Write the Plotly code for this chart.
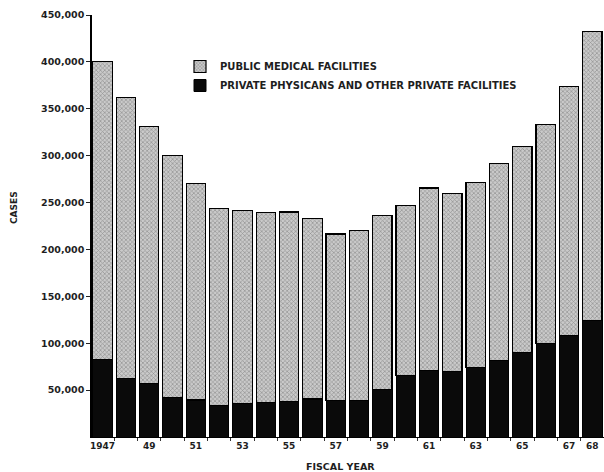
import plotly.graph_objects as go

years = list(range(1947, 1969))
private = [83000, 62000, 57000, 42000, 39500, 33500, 36000, 36500, 37500, 40500, 39000,
           39000, 51000, 66000, 71000, 69500, 74000, 81500, 90000, 99500, 108000, 124000]
public = [317000, 300000, 274000, 258500, 231000, 210500, 205500, 202500, 202500, 192500, 177500,
          181500, 185500, 180500, 194500, 190500, 197000, 210000, 219500, 233500, 266000, 308000]
xtick_vals = [1947, 1949, 1951, 1953, 1955, 1957, 1959, 1961, 1963, 1965, 1967, 1968]
xtick_text = ["1947", "49", "51", "53", "55", "57", "59", "61", "63", "65", "67", "68"]
ytick_vals = [50000, 100000, 150000, 200000, 250000, 300000, 350000, 400000, 450000]
ytick_text = ["50,000", "100,000", "150,000", "200,000", "250,000", "300,000", "350,000", "400,000", "450,000"]
gap_vals = [y + 0.5 for y in years[:-1]]

FONT = "DejaVu Sans"
TXT = "#1e1e1e"

W, H = 604, 472
L, T, R, B = 92, 15, 0, 35
PW, PH = W - L - R, H - T - B

fig = go.Figure()
fig.add_trace(go.Bar(
    x=years, y=private, name="PRIVATE PHYSICANS AND OTHER PRIVATE FACILITIES",
    marker=dict(color="#0a0a0a", line=dict(color="#000", width=1)),
))
fig.add_trace(go.Bar(
    x=years, y=public, name="PUBLIC MEDICAL FACILITIES",
    marker=dict(color="#bcbcbc", line=dict(color="#000", width=1.2),
                pattern=dict(shape="x", fgcolor="#5a5a5a", bgcolor="#cacaca", size=3, solidity=0.4)),
))

fig.update_layout(
    width=W, height=H,
    margin=dict(l=L, r=R, t=T, b=B, autoexpand=False),
    barmode="stack", bargap=0.17,
    paper_bgcolor="white", plot_bgcolor="white",
    showlegend=True,
    legend=dict(
        x=(180 - L) / PW, y=(T + PH - 52) / PH, xanchor="left", yanchor="top",
        traceorder="reversed", bgcolor="rgba(0,0,0,0)",
        font=dict(family=FONT, size=10, color=TXT, weight="bold"),
        itemwidth=30, tracegroupgap=0,
    ),
    font=dict(family=FONT, color=TXT),
    xaxis=dict(
        range=[1946.55, 1968.5], tickvals=xtick_vals, ticktext=xtick_text,
        ticks="", showgrid=False, zeroline=False,
        showline=True, linecolor="#000", linewidth=1,
        tickfont=dict(family=FONT, size=9, color=TXT, weight="bold"),
        minor=dict(tickvals=gap_vals, ticks="outside", ticklen=3, tickcolor="#333", tickwidth=1),
    ),
    yaxis=dict(
        range=[0, 450000], tickvals=ytick_vals, ticktext=ytick_text,
        ticks="outside", ticklen=4, tickcolor="#222", tickwidth=1,
        showgrid=False, zeroline=False,
        showline=True, linecolor="#000", linewidth=1.5,
        tickfont=dict(family=FONT, size=9.5, color=TXT, weight="bold"),
    ),
    annotations=[
        dict(text="CASES", x=(14 - L) / PW, y=(T + PH - 208) / PH, xref="paper", yref="paper",
             showarrow=False, textangle=-90, xanchor="center", yanchor="middle",
             font=dict(family=FONT, size=9, color=TXT, weight="bold")),
        dict(text="FISCAL YEAR", x=(340 - L) / PW, y=(T + PH - 466) / PH, xref="paper", yref="paper",
             showarrow=False, xanchor="center", yanchor="middle",
             font=dict(family=FONT, size=9.5, color=TXT, weight="bold")),
    ],
)

fig.write_html("out.html", config={"displayModeBar": False},
               post_script="document.body.style.margin='0';document.body.style.overflow='hidden';")
